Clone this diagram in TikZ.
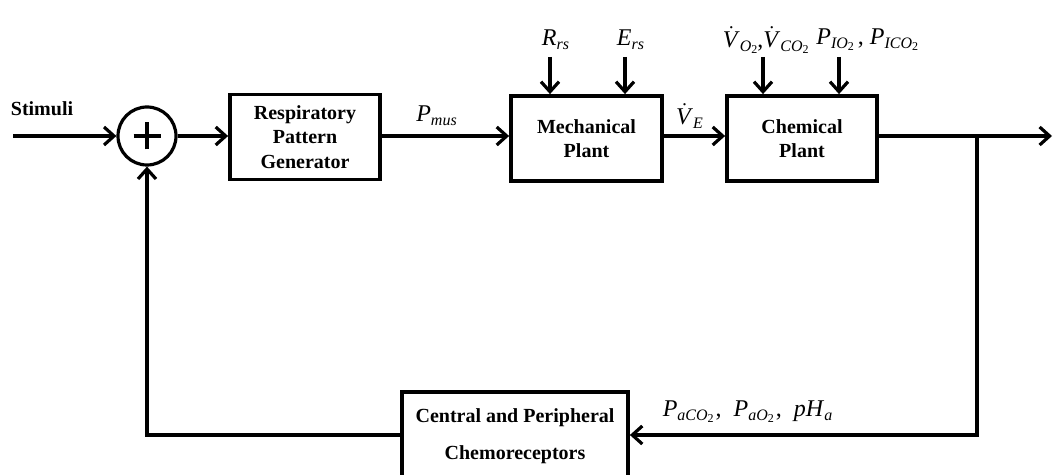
\documentclass[tikz,border=0pt]{standalone}
\usepackage{fontspec}
\setmainfont{Liberation Serif}
\usetikzlibrary{arrows.meta}
\newcommand\vdot{$\dot{\hbox{\textit{V}}}$}
\newcommand\sbx[1]{\textsubscript{\textit{#1}}}
\begin{document}
\begin{tikzpicture}[x=0.5pt,y=-0.5pt,
  blk/.style={draw,line width=1.9pt,minimum width=75pt,minimum height=42.5pt,align=center,
    font=\bfseries\fontsize{10}{12.25}\selectfont,inner sep=0pt},
  ln/.style={line width=1.6pt},
  arr/.style={ln,-{Straight Barb[length=5pt,width=9pt]}},
  lab/.style={font=\fontsize{12}{14}\selectfont,inner sep=0pt},
  sumnode/.style={circle,draw,line width=1.6pt,minimum size=29pt,inner sep=0pt}]
\useasboundingbox (0,0) rectangle (1053,475);

% blocks
\node[sumnode] (sum) at (147,136) {};
\draw[line width=2pt] ([xshift=-6.75pt]sum.center) -- ([xshift=6.75pt]sum.center)
  ([yshift=-6.75pt]sum.center) -- ([yshift=6.75pt]sum.center);
\node[blk] (rpg) at (305,137) {Respiratory\\Pattern\\Generator};
\node[blk,minimum width=75.5pt] (mech) at (586.5,138.5) {Mechanical\\Plant};
\node[blk] (chem) at (802,138.5) {Chemical\\Plant};
\node[blk,minimum width=113pt,minimum height=44pt,
  font=\bfseries\fontsize{10}{18.5}\selectfont] (chemo) at (515,436) {Central and Peripheral\\Chemoreceptors};

% labels
\node[font=\bfseries\fontsize{10}{12}\selectfont,inner sep=0pt] (stim) at (42,109) {Stimuli};
\node[lab] (pmus) at (437,116) {\textit{P}\sbx{mus}};
\node[lab] (ve) at (690,116) {\vdot\sbx{E}};
\node[lab] (rrs) at (556,40) {\textit{R}\sbx{rs}};
\node[lab] (ers) at (631,40) {\textit{E}\sbx{rs}};
\node[lab,anchor=east] (vo) at (811,40) {\vdot\textsubscript{\textit{O}\textsubscript{2}}\kern-1pt,\vdot\textsubscript{\textit{CO}\textsubscript{2}}};
\node[lab,anchor=west] (pio) at (816,40) {\textit{P}\textsubscript{\textit{IO}\textsubscript{2}}\kern1pt, \textit{P}\textsubscript{\textit{ICO}\textsubscript{2}}};
\node[lab] (pa) at (748,412) {\textit{P}\textsubscript{\textit{aCO}\textsubscript{2}},\ \ \textit{P}\textsubscript{\textit{aO}\textsubscript{2}},\ \ \textit{pH}\sbx{a}};

% coordinates
\coordinate (in) at (13,136);
\coordinate (out) at (1052,136);
\coordinate (br) at (977,136);
\coordinate (brb) at (977,435);
\coordinate (fbl) at (147,435);
\coordinate (t1) at (550,57);
\coordinate (t2) at (625,57);
\coordinate (t3) at (763,57);
\coordinate (t4) at (839,57);

% connectors
\draw[arr] (in) -- (sum.west);
\draw[arr] (sum.east) -- (rpg.west |- sum.east);
\draw[arr] (rpg.east |- sum.east) -- (mech.west |- sum.east);
\draw[arr] (mech.east |- sum.east) -- (chem.west |- sum.east);
\draw[arr] (chem.east |- sum.east) -- (out);
\draw[arr] (br) -- (brb) -- (chemo.east |- brb);
\draw[arr] (chemo.west |- brb) -- (fbl) -- (sum.south);
\draw[arr] (t1) -- (t1 |- mech.north);
\draw[arr] (t2) -- (t2 |- mech.north);
\draw[arr] (t3) -- (t3 |- chem.north);
\draw[arr] (t4) -- (t4 |- chem.north);
\end{tikzpicture}
\end{document}
